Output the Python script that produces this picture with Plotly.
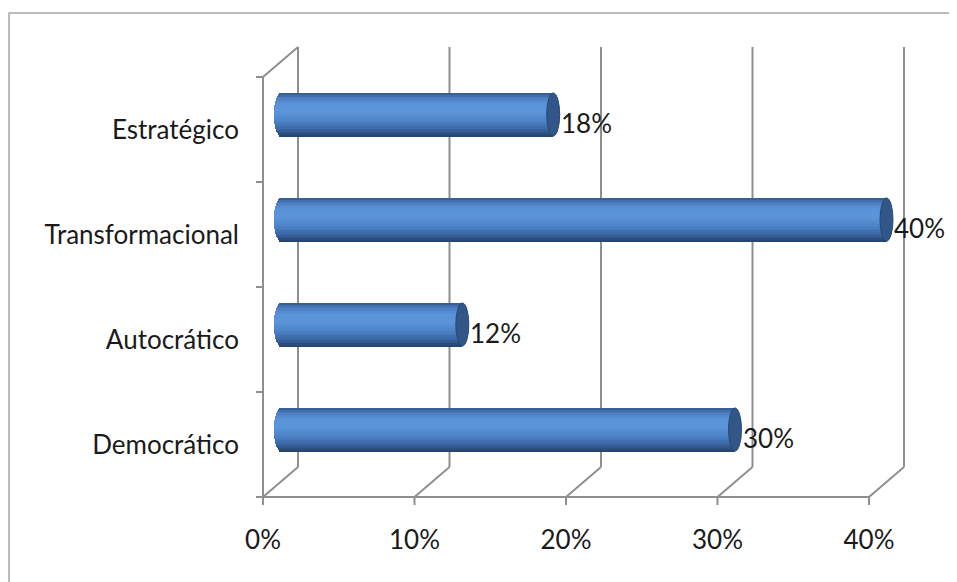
import plotly.graph_objects as go

# ---------------- data ----------------
categories = ["Democrático", "Autocrático", "Transformacional", "Estratégico"]
values = [0.30, 0.12, 0.40, 0.18]
value_labels = ["30%", "12%", "40%", "18%"]
x_ticks = [0.0, 0.1, 0.2, 0.3, 0.4]
x_tick_labels = ["0%", "10%", "20%", "30%", "40%"]

# ---------------- geometry (pixel scale) ----------------
OFF = 8                       # page body margin
W, H = 957 - OFF, 582 - OFF   # figure size
PX_X = 1515.0                 # pixels per 1.0 (100%)
PX_Y = 105.0                  # pixels per category
FRONT_ZERO_PX = 263 - OFF     # x pixel of 0% on front axis (figure coords)
FRONT_BOT_PX = 497 - OFF      # y pixel of front floor edge (figure coords)
DEPTH_X, DEPTH_Y = 35.0, 30.0
PLOT_L, PLOT_B = 240, 510
FONT = "Lato"
FS = 26
GRID = "#8f8f8f"

x0 = (PLOT_L - FRONT_ZERO_PX) / PX_X
x1 = (W - FRONT_ZERO_PX) / PX_X
y0 = -0.5 - (PLOT_B - FRONT_BOT_PX) / PX_Y
y1 = -0.5 + FRONT_BOT_PX / PX_Y
sx = (DEPTH_X / 2) / PX_X
sy = (DEPTH_Y / 2) / PX_Y
dx = DEPTH_X / PX_X
dy = DEPTH_Y / PX_Y

fig = go.Figure()

# ---------------- cylinder bars via horizontal bands ----------------
BAR_W = 0.41
N = 27
cap_hw = 6.5 / PX_X
stops = [
    (0.00, (36, 66, 108)),
    (0.12, (52, 92, 150)),
    (0.32, (74, 126, 194)),
    (0.55, (91, 148, 216)),
    (0.75, (90, 147, 215)),
    (0.92, (72, 121, 188)),
    (1.00, (50, 88, 140)),
]

def grad(t):
    for (ta, ca), (tb, cb) in zip(stops[:-1], stops[1:]):
        if ta <= t <= tb:
            f = (t - ta) / (tb - ta) if tb > ta else 0
            c = [round(a + (b - a) * f) for a, b in zip(ca, cb)]
            return "rgb(%d,%d,%d)" % tuple(c)
    return "rgb(%d,%d,%d)" % stops[-1][1]

bw = BAR_W / N
ypos = list(range(len(categories)))
for k in range(N):
    t = (k + 0.5) / N
    u = 2 * t - 1
    ext = cap_hw * max(0.0, 1 - u * u) ** 0.5
    fig.add_trace(go.Bar(
        orientation="h",
        y=ypos,
        x=[v + ext for v in values],
        base=[-ext] * len(values),
        width=bw * 1.15,
        offset=-BAR_W / 2 + k * bw,
        marker=dict(color=grad(t), line=dict(width=0)),
        xaxis="x2", yaxis="y2",
        hoverinfo="skip",
        showlegend=False,
    ))

shapes = []
# end caps
for i, v in enumerate(values):
    shapes.append(dict(type="circle", xref="x2", yref="y2",
                       x0=v - cap_hw, x1=v + cap_hw,
                       y0=i - BAR_W / 2, y1=i + BAR_W / 2,
                       fillcolor="rgb(50,86,136)",
                       line=dict(color="rgb(40,72,118)", width=1),
                       layer="above"))

# ---------------- 3D frame ----------------
def seg(xa, ya, xb, yb, layer="below"):
    shapes.append(dict(type="line", xref="x", yref="y", x0=xa, y0=ya, x1=xb, y1=yb,
                       line=dict(color=GRID, width=2), layer=layer))

top = len(categories) - 0.5
bot = -0.5
seg(0, bot, 0, top)                       # left wall front edge
seg(0, top, dx, top + dy)                 # left wall top diagonal
for t in x_ticks:
    seg(t + dx, bot + dy, t + dx, top + dy)   # back wall gridlines
    seg(t, bot, t + dx, bot + dy)             # floor diagonals
    seg(t, bot, t, bot - 8 / PX_Y)            # x tick marks
seg(0, bot, x_ticks[-1], bot)             # floor front edge
for b in range(len(categories) + 1):
    yb = b - 0.5
    seg(-7 / PX_X, yb, 0, yb)             # category boundary ticks

# outer border (paper coords are relative to the plot area)
PW, PH = W - PLOT_L, PLOT_B
def px2paper_x(p):
    return (p - PLOT_L) / PW
def px2paper_y(p):
    return (PLOT_B - p) / PH
shapes.append(dict(type="rect", xref="paper", yref="paper",
                   x0=px2paper_x(9 - OFF), x1=px2paper_x(W + 10),
                   y0=px2paper_y(H + 10), y1=px2paper_y(13 - OFF),
                   line=dict(color="#a6a6a6", width=1.5), fillcolor="rgba(0,0,0,0)",
                   layer="below"))

# data labels
annotations = []
for i, (v, lab) in enumerate(zip(values, value_labels)):
    annotations.append(dict(x=v, y=i, xref="x2", yref="y2", text=lab,
                            showarrow=False, xanchor="left", yanchor="middle",
                            xshift=cap_hw * PX_X - 1, yshift=-8,
                            font=dict(family=FONT, size=FS, color="#1a1a1a")))

fig.update_layout(
    width=W, height=H,
    margin=dict(l=PLOT_L, r=0, t=0, b=H - PLOT_B),
    paper_bgcolor="white", plot_bgcolor="rgba(0,0,0,0)",
    barmode="overlay",
    bargap=0,
    shapes=shapes,
    annotations=annotations,
    font=dict(family=FONT, size=FS, color="#1a1a1a"),
    xaxis=dict(range=[x0, x1], tickvals=x_ticks, ticktext=x_tick_labels,
               ticks="", showgrid=False, zeroline=False, showline=False,
               ticklabelstandoff=4, fixedrange=True),
    yaxis=dict(range=[y0, y1], tickvals=ypos, ticktext=categories,
               ticks="", showgrid=False, zeroline=False, showline=False,
               ticklabelstandoff=8, fixedrange=True),
    xaxis2=dict(range=[x0 - sx, x1 - sx], overlaying="x", visible=False,
                fixedrange=True),
    yaxis2=dict(range=[y0 - sy, y1 - sy], overlaying="y", visible=False,
                fixedrange=True),
)

fig.write_html("out.html")
